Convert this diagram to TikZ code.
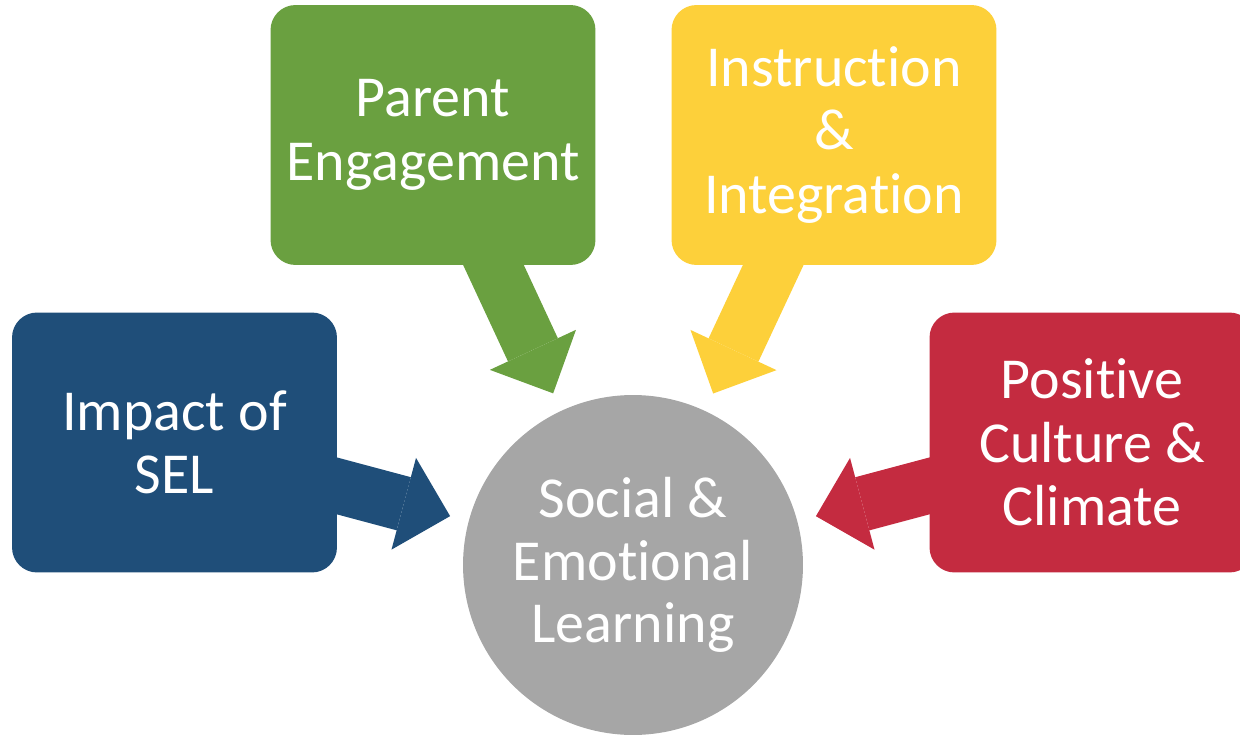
\documentclass[tikz,border=0pt]{standalone}
\usepackage{fontspec}
\setmainfont{Carlito}[Ligatures={NoCommon,NoRequired,NoContextual,NoRare}]
\usetikzlibrary{arrows.meta,backgrounds}
\definecolor{impblue}{RGB}{31,78,121}
\definecolor{pargreen}{RGB}{106,160,64}
\definecolor{insyellow}{RGB}{253,208,58}
\definecolor{posred}{RGB}{196,43,64}
\definecolor{selgray}{RGB}{166,166,166}

\begin{document}
\begin{tikzpicture}[x=0.02cm,y=-0.02cm,
  box/.style={rounded corners=0.5cm,minimum width=6.5cm,minimum height=5.2cm,align=center,text=white,font=\fontsize{33}{36}\selectfont},
  link/.style={line width=1.1cm,-{Triangle[length=0.96cm,width=1.9cm,line width=0pt]},shorten >=0.38cm}]
\useasboundingbox (0,0) rectangle (1240,736);
\node[circle,fill=selgray,minimum size=6.8cm,align=center,text=white,font=\fontsize{33}{35.5}\selectfont] (sel) at (633,565) {Social \&\\Emotional\\Learning};
\node[box,fill=impblue] (imp) at (174.5,442.5) {Impact of\\SEL};
\node[box,fill=pargreen] (par) at (433,135) {Parent\\Engagement};
\node[box,fill=insyellow] (ins) at (834,135) {Instruction\\\&\\Integration};
\node[box,fill=posred] (pos) at (1092,442.5) {Positive\\Culture \&\\Climate};
\begin{pgfonlayer}{background}
\draw[link,impblue] (imp.center)--(sel);
\draw[link,pargreen] (par.center)--(sel);
\draw[link,insyellow] (ins.center)--(sel);
\draw[link,posred] (pos.center)--(sel);
\end{pgfonlayer}
\end{tikzpicture}
\end{document}
